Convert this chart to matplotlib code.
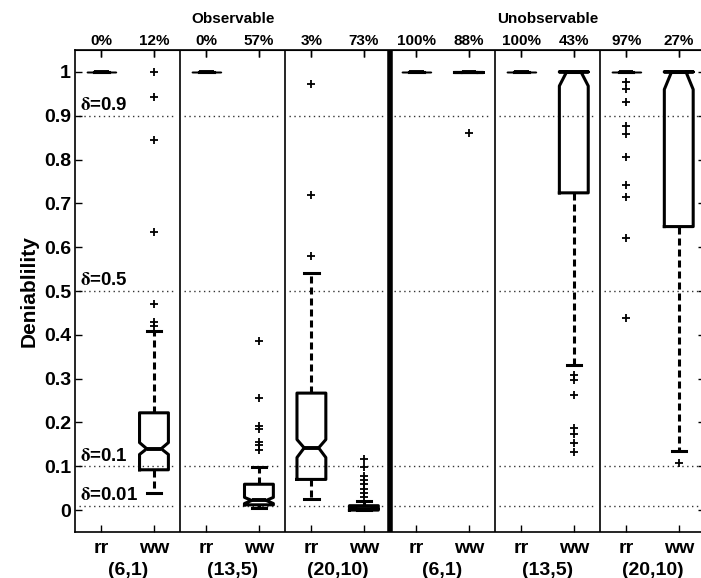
import matplotlib
matplotlib.use("Agg")
import matplotlib.pyplot as plt
import matplotlib.transforms as mtransforms

plt.rcParams['font.family'] = ['Liberation Sans', 'DejaVu Sans']
plt.rcParams['font.weight'] = 'bold'
plt.rcParams['mathtext.fontset'] = 'stix'

# one entry per box, left to right: rr, ww for each (n,k) setting
box_labels = ['rr', 'ww'] * 6
pct_labels = ['0%', '12%', '0%', '57%', '3%', '73%',
              '100%', '88%', '100%', '43%', '97%', '27%']
group_labels = ['(6,1)', '(13,5)', '(20,10)', '(6,1)', '(13,5)', '(20,10)']
section_labels = ['Observable', 'Unobservable']

med    = [1, 0.140, 1, 0.022, 0.142, 0.003, 1, 1, 1, 1.000, 1, 1.000]
q1     = [1, 0.092, 1, 0.012, 0.070, 0.000, 1, 1, 1, 0.724, 1, 0.647]
q3     = [1, 0.222, 1, 0.059, 0.267, 0.010, 1, 1, 1, 1.000, 1, 1.000]
whislo = [1, 0.038, 1, 0.004, 0.026, 0.000, 1, 1, 1, 0.330, 1, 0.135]
whishi = [1, 0.409, 1, 0.099, 0.541, 0.021, 1, 1, 1, 1.000, 1, 1.000]
cilo   = [1, 0.127, 1, 0.015, 0.120, 0.002, 1, 1, 1, 0.968, 1, 0.960]
cihi   = [1, 0.154, 1, 0.029, 0.161, 0.004, 1, 1, 1, 1.000, 1, 1.000]
fliers = [
    [],
    [0.42, 0.43, 0.47, 0.635, 0.845, 0.942, 1.0],
    [],
    [0.138, 0.148, 0.155, 0.184, 0.192, 0.255, 0.386],
    [0.58, 0.72, 0.972],
    [0.03, 0.04, 0.049, 0.059, 0.069, 0.078, 0.098, 0.116],
    [],
    [0.861],
    [],
    [0.133, 0.154, 0.174, 0.188, 0.262, 0.298, 0.309],
    [0.439, 0.621, 0.714, 0.741, 0.805, 0.858, 0.877, 0.932, 0.96, 0.976],
    [0.108],
]

delta_levels = [0.9, 0.5, 0.1, 0.01]
delta_names = ['0.9', '0.5', '0.1', '0.01']

positions = list(range(1, len(box_labels) + 1))
stats = []
for i in range(len(box_labels)):
    stats.append(dict(med=med[i], q1=q1[i], q3=q3[i], whislo=whislo[i],
                      whishi=whishi[i], cilo=cilo[i], cihi=cihi[i],
                      fliers=fliers[i], label=box_labels[i]))

fig = plt.figure(figsize=(7.01, 5.78), dpi=100)
ax = fig.add_axes([75.25 / 701, 1 - 532 / 578, (705 - 75.25) / 701, (532 - 50) / 578])

lw = 2.2
res = ax.bxp(stats, positions=positions, widths=0.55, shownotches=True,
             boxprops=dict(color='k', lw=lw),
             whiskerprops=dict(color='k', lw=lw, linestyle=(0, (2.3, 1.3))),
             capprops=dict(color='k', lw=lw),
             medianprops=dict(color='k', lw=lw + 0.6),
             flierprops=dict(marker='+', markeredgecolor='k', markersize=6,
                             markeredgewidth=1.3, linestyle='none'))

# collapsed rr boxes are drawn thin with a thick median
for i, b in enumerate(res['boxes']):
    if q1[i] == q3[i] and box_labels[i] == 'rr':
        b.set_linewidth(0.9)

ax.set_xlim(0.5, 12.5)
ax.set_ylim(-0.05, 1.05)

# panel separators and delta levels
bounds = [0.5, 2.5, 4.5, 6.5, 8.5, 10.5, 12.5]
for xb in bounds[1:-1]:
    ax.axvline(xb, color='k', lw=4 if xb == 6.5 else 1.2, zorder=3)
for lo, hi in zip(bounds[:-1], bounds[1:]):
    ax.hlines(delta_levels, lo + 0.08, hi - 0.08, colors='0.2',
              linestyles=(0, (1, 2.5)), lw=1.0, zorder=0)
for lev, name in zip(delta_levels, delta_names):
    ax.text(0.6, lev + 0.004, r'$\mathrm{\delta}$=' + name, fontsize=13.5,
            fontweight='bold', va='bottom', ha='left')

ax.set_yticks([i / 10 for i in range(11)])
ax.set_yticklabels(['0', '0.1', '0.2', '0.3', '0.4', '0.5', '0.6', '0.7',
                    '0.8', '0.9', '1'])
ax.set_xticks(positions)
ax.set_xticklabels(box_labels)
ax.tick_params(direction='in', length=5, width=1, top=True, right=True,
               labelsize=14)
ax.tick_params(axis='x', pad=6)
ax.tick_params(axis='y', pad=3)
for s in ax.spines.values():
    s.set_linewidth(1.2)

top = ax.secondary_xaxis('top')
top.set_xticks(positions)
top.set_xticklabels(pct_labels)
top.tick_params(direction='in', length=5, width=1, labelsize=11, pad=1.5)

trans = mtransforms.blended_transform_factory(ax.transData, ax.transAxes)
for j, g in enumerate(group_labels):
    ax.text(2 * j + 1.5, -0.079, g, transform=trans, ha='center', va='center',
            fontsize=14, fontweight='bold')
for j, s in enumerate(section_labels):
    ax.text(6 * j + 3.5, 1.065, s, transform=trans, ha='center', va='center',
            fontsize=11, fontweight='bold')

ax.set_ylabel('Deniablility', fontsize=15, fontweight='bold', labelpad=4)

fig.savefig('out.png', dpi=100)
